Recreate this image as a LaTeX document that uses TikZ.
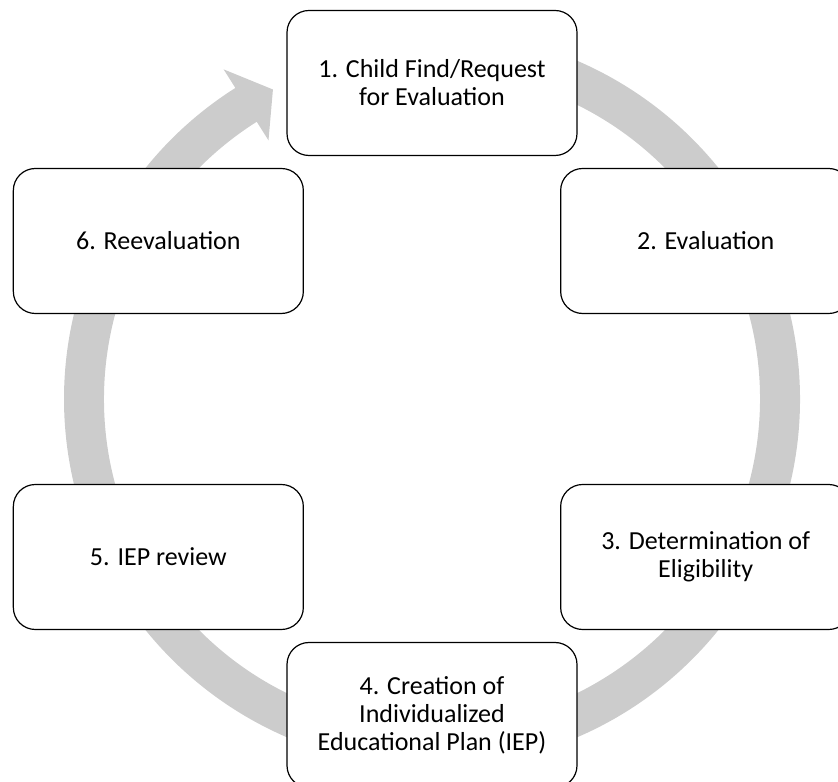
\documentclass[tikz,border=0pt]{standalone}
\usepackage{fontspec}
\setmainfont{Carlito}
\definecolor{ringgray}{RGB}{204,204,204}
\tikzset{
    stepbox/.style={draw=black, line width=1.2bp, fill=white, rounded corners=22bp,
        minimum width=290bp, minimum height=145bp, align=center,
        font=\fontsize{26bp}{28bp}\selectfont},
}
\begin{document}
\begin{tikzpicture}[x=1bp, y=1bp]
    % 画布大小
    \useasboundingbox (0,0) rectangle (838,782);
    \clip (0,0) rectangle (838,782);

    \coordinate (c) at (432,383);

    \begin{scope}[shift={(c)}]
        % 灰色环形箭头
        \fill[ringgray] (95:368) arc[start angle=95, end angle=-237.7, radius=368]
            -- (-237.7:390) -- (-242.8:348) -- (-237.7:306) -- (-237.7:328)
            arc[start angle=-237.7, end angle=95, radius=328] -- cycle;

        % 六个步骤
        \node[stepbox] (find)   at (90:316)   {1. Child Find/Request\\for Evaluation};
        \node[stepbox] (eval)   at (30:316)   {2. Evaluation};
        \node[stepbox] (elig)   at (-30:316)  {3. Determination of\\Eligibility};
        \node[stepbox] (iep)    at (-90:316)  {4. Creation of\\Individualized\\Educational Plan (IEP)};
        \node[stepbox] (review) at (-150:316) {5. IEP review};
        \node[stepbox] (reeval) at (150:316)  {6. Reevaluation};
    \end{scope}
\end{tikzpicture}
\end{document}
